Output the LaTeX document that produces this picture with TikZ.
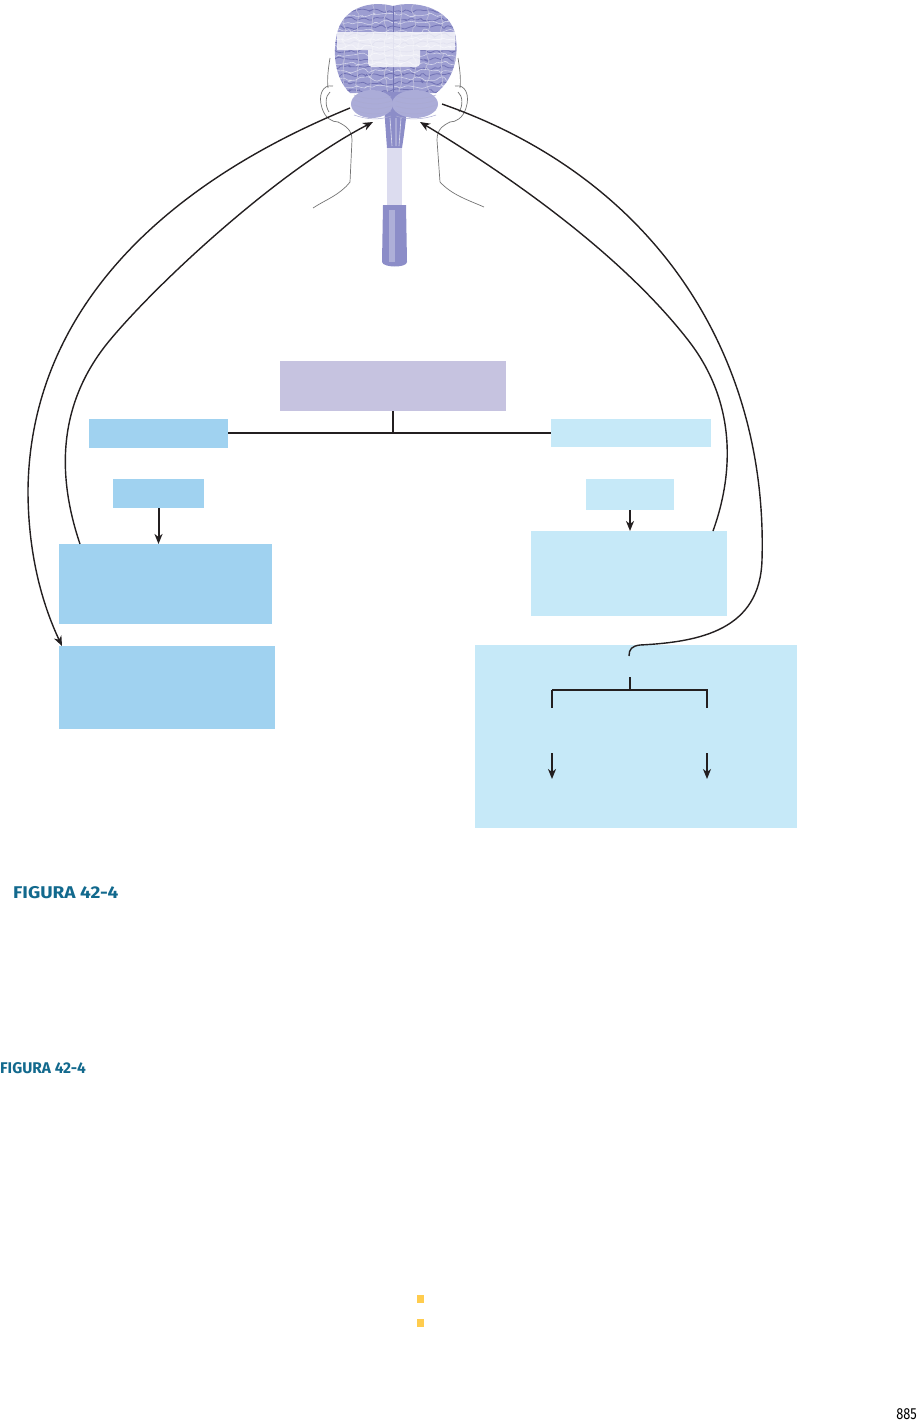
\documentclass[tikz,border=0pt]{standalone}
\usepackage{fontspec}
\setmainfont{Fira Sans}
\usepackage{tikz}
\usetikzlibrary{arrows.meta,decorations.pathmorphing}
\definecolor{boxdark}{HTML}{A0D2F0}
\definecolor{boxlight}{HTML}{C6E9F8}
\definecolor{boxpurple}{HTML}{C6C3E0}
\definecolor{inkline}{HTML}{231F20}
\definecolor{brainblue}{HTML}{9C9DD1}
\definecolor{braindark}{HTML}{7172B4}
\definecolor{stemblue}{HTML}{8C8DC8}
\definecolor{stempale}{HTML}{DCDCEF}
\definecolor{figteal}{HTML}{12698D}
\definecolor{markyellow}{HTML}{FFCC4E}

\begin{document}
\begin{tikzpicture}[x=1pt, y=-1pt,
		box/.style={inner sep=0pt, outer sep=0pt, draw=none},
		purplebox/.style={box, fill=boxpurple},
		darkbox/.style={box, fill=boxdark},
		lightbox/.style={box, fill=boxlight},
		link/.style={draw=inkline, line width=2pt},
		pathway/.style={draw=inkline, line width=1.4pt},
		headed/.style={-{Stealth[length=10pt, width=8pt, inset=3pt]}},
		gyrus/.style={draw=braindark, line width=0.8pt, decorate, decoration={random steps, segment length=4pt, amplitude=2.4pt}, rounded corners=1.5pt},
		skin/.style={draw=black!55, line width=0.7pt},
		figlabel/.style={inner sep=0pt, anchor=base west, text=figteal, font=\bfseries\fontsize{17}{19}\selectfont}]
			%%%%% START %%%%%
			
			\useasboundingbox (0,0) rectangle (921,1424);
			
			% head and neck
			\draw[skin] (330,58) .. controls (328,70) and (327,80) .. (328,88);
			\draw[skin] (458,58) .. controls (460,70) and (461,80) .. (460,88);
			\draw[skin] (333,86) .. controls (322,84) and (318,96) .. (322,108) .. controls (325,118) and (332,122) .. (338,122);
			\draw[skin] (330,92) .. controls (325,96) and (325,106) .. (329,112);
			\draw[skin] (455,86) .. controls (466,84) and (470,96) .. (466,108) .. controls (463,118) and (456,122) .. (450,122);
			\draw[skin] (458,92) .. controls (463,96) and (463,106) .. (459,112);
			\draw[skin] (338,122) .. controls (346,126) and (352,130) .. (352,140) -- (350,182) .. controls (340,195) and (325,200) .. (313,208);
			\draw[skin] (450,122) .. controls (442,126) and (437,130) .. (437,140) -- (440,182) .. controls (452,195) and (468,200) .. (484,207);
			
			% cerebrum
			\fill[brainblue] (393,6) .. controls (370,0) and (345,8) .. (338,30) .. controls (332,50) and (334,78) .. (350,93) -- (436,93) .. controls (456,78) and (460,50) .. (454,30) .. controls (446,8) and (416,0) .. (393,6) -- cycle;
			\begin{scope}
				\clip (393,6) .. controls (370,0) and (345,8) .. (338,30) .. controls (332,50) and (334,78) .. (350,93) -- (436,93) .. controls (456,78) and (460,50) .. (454,30) .. controls (446,8) and (416,0) .. (393,6) -- cycle;
				\pgfmathsetseed{11}
				\foreach \yy in {11,19,...,91}
					\draw[gyrus] (332,\yy) -- (462,\yy);
				\foreach \xx in {344,358,...,456}
					\draw[gyrus, draw=braindark!50] (\xx,4) -- (\xx,96);
				\foreach \yy in {15,23,...,91}
					\draw[gyrus, draw=white!55!brainblue, line width=0.6pt] (332,\yy) -- (462,\yy);
				\draw[braindark, line width=1pt] (393,5) -- (393,93);
			\end{scope}
			\fill[white, opacity=0.8] (337,32) rectangle (455,50) (368,32) [rounded corners=4pt] rectangle (420,67);
			
			% cerebellum and brainstem
			\fill[stemblue] (383,92) .. controls (385,120) and (386,135) .. (387,148) -- (402,148) .. controls (404,135) and (406,120) .. (409,92) -- cycle;
			\fill[brainblue!85!white] (372,104) ellipse (21 and 14);
			\fill[brainblue!85!white] (415,104) ellipse (23 and 14);
			\foreach \yy in {95,100,...,115} {
				\draw[braindark!60, line width=0.5pt] (354,\yy) .. controls (368,{\yy+5}) and (380,{\yy+5}) .. (391,{\yy+1});
				\draw[braindark!60, line width=0.5pt] (396,{\yy+1}) .. controls (408,{\yy+5}) and (422,{\yy+5}) .. (436,\yy);
			}
			\draw[white!70!stemblue, line width=0.6pt] (390,118) -- (392,146) (396,118) -- (396,146) (401,118) -- (399,146);
			\fill[stempale] (387,148) rectangle (402,205);
			\fill[stemblue] (383,205) -- (406,205) -- (407,262) .. controls (407,268) and (383,268) .. (382,262) -- cycle;
			\fill[white, opacity=0.3] (389,210) rectangle (395,262);
			
			% brain end points
			\coordinate (brainL) at (350,108);
			\coordinate (brainLin) at (373,122);
			\coordinate (brainRin) at (420,122);
			\coordinate (brainR) at (442,104);
			
			% boxes
			\node[purplebox, minimum width=226pt, minimum height=50pt] (centre) at (393,386) {};
			\node[darkbox, minimum width=139pt, minimum height=29pt] (sideL) at (158.5,433) {};
			\node[lightbox, minimum width=160pt, minimum height=28pt] (sideR) at (631,433) {};
			\node[darkbox, minimum width=91pt, minimum height=29pt] (stepL) at (158.5,493.5) {};
			\node[lightbox, minimum width=88pt, minimum height=31pt] (stepR) at (630,494.5) {};
			\node[darkbox, minimum width=213pt, minimum height=80pt] (effectL) at (165.5,584) {};
			\node[lightbox, minimum width=196pt, minimum height=85pt] (effectR) at (629,573.5) {};
			\node[darkbox, minimum width=216pt, minimum height=83pt] (outL) at (167,687.5) {};
			\node[lightbox, minimum width=322pt, minimum height=183pt] (outR) at (636,736.5) {};
			
			% tree lines
			\draw[link] (sideL.east) -- (sideR.west);
			\draw[link] (centre.south) -- (centre.south |- sideR.west);
			\draw[link, headed] (stepL.south) -- (stepL.south |- effectL.north);
			\draw[link, headed] (stepR.south) -- (stepR.south |- effectR.north);
			
			% fork inside the right box
			\coordinate (forkIn) at (629,656);
			\coordinate (forkTop) at (630,677);
			\coordinate (forkMid) at (630,690);
			\coordinate (forkL) at (552,690);
			\coordinate (forkR) at (707,690);
			\coordinate (legL) at (552,708);
			\coordinate (legR) at (707,708);
			\coordinate (dropL) at (552,753);
			\coordinate (dropR) at (707,753);
			\coordinate (endL) at (552,779);
			\coordinate (endR) at (707,779);
			\draw[link] (forkTop) -- (forkMid);
			\draw[pathway] (forkL) -- (forkR) -- (legR);
			\draw[link, line width=2.2pt] (forkL) -- (legL);
			\draw[link, headed] (dropL) -- (endL);
			\draw[pathway, headed] (dropR) -- (endR);
			
			% pathways to and from the brain
			\draw[pathway, headed] (brainL) .. controls (150,190) and (30,320) .. (28,490) .. controls (28,560) and (45,610) .. ([xshift=3pt]outL.north west);
			\draw[pathway, headed] ([xshift=21pt]effectL.north west) .. controls (55,470) and (60,400) .. (110,340) .. controls (160,280) and (280,170) .. (brainLin);
			\draw[pathway, headed] ([xshift=-14pt]effectR.north east) .. controls (735,470) and (735,400) .. (688,340) .. controls (618,250) and (500,170) .. (brainRin);
			\draw[pathway] (brainR) .. controls (660,180) and (768,360) .. (762,560) .. controls (760,630) and (700,642) .. (640,645) .. controls (632,646) and (629,649) .. (forkIn);
			
			% captions
			\node[figlabel] (figA) at (13,898) {\scalebox{1.12}[1]{FIGURA 42-4}};
			\node[figlabel, font=\bfseries\fontsize{15.5}{18}\selectfont] (figB) at (0,1073) {FIGURA 42-4};
			\fill[markyellow] (417,1295) rectangle (424,1303);
			\fill[markyellow] (417,1319) rectangle (424,1327);
			\node[inner sep=0pt, anchor=base east, font=\fontsize{16}{18}\selectfont] (pageno) at (917,1419) {\scalebox{0.8}[1]{885}};
			
			%%%%% END %%%%%
		\end{tikzpicture}
\end{document}
